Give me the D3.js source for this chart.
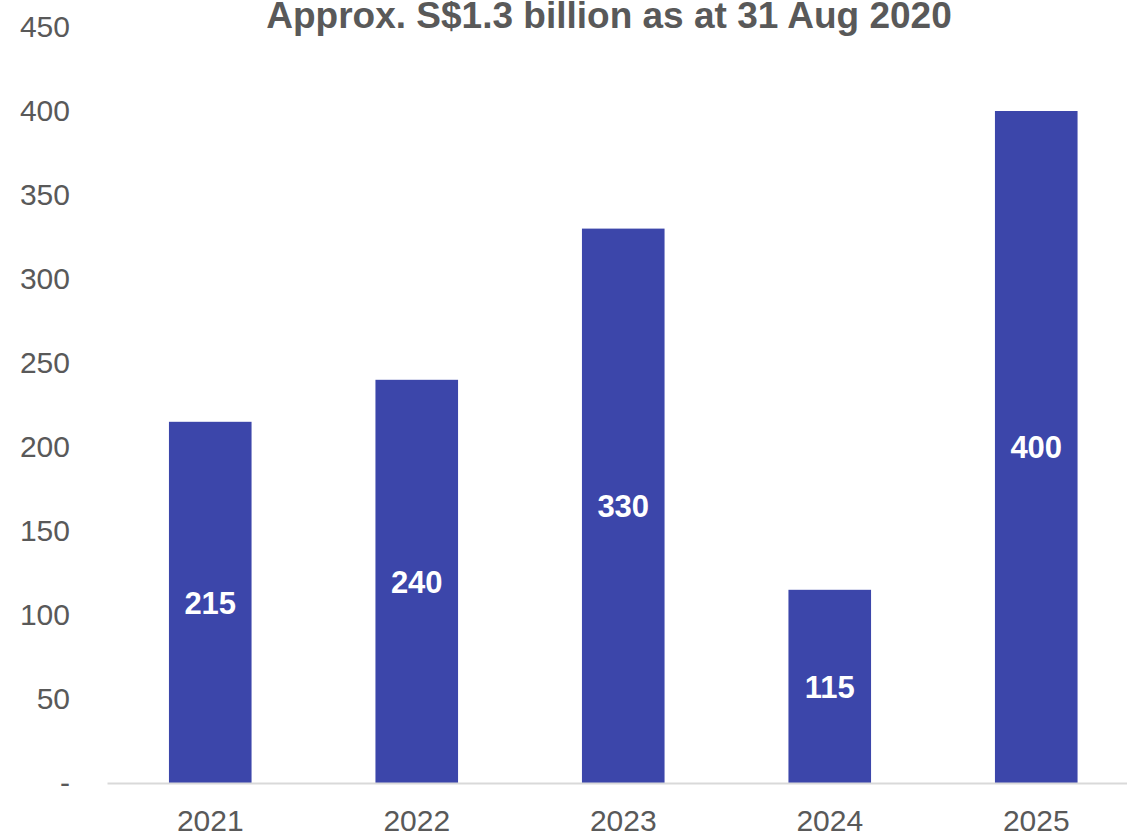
<!DOCTYPE html>
<html>
<head>
<meta charset="utf-8">
<script src="https://cdn.jsdelivr.net/npm/d3@7"></script>
<style>
  html, body { margin: 0; padding: 0; background: #fff; }
  svg { display: block; font-family: "Liberation Sans", Arial, sans-serif; }
</style>
</head>
<body>
<div id="chart"></div>
<script>
// chart data
const years = ["2021", "2022", "2023", "2024", "2025"];
const amounts = [215, 240, 330, 115, 400];
const yTicks = [0, 50, 100, 150, 200, 250, 300, 350, 400, 450];
const title = "Approx. S$1.3 billion as at 31 Aug 2020";

const width = 1127, height = 834;
const textGrey = "#595959";
const barColor = "#3C46AA";

const svg = d3.select("#chart").append("svg")
    .attr("width", width)
    .attr("height", height);

// scales
const x = d3.scaleBand()
    .domain(years)
    .range([107, 1139.5])
    .paddingInner(0.6)
    .paddingOuter(0.3);

const y = d3.scaleLinear()
    .domain([0, 450])
    .range([783, 27]);

// y axis (labels only)
const yAxis = svg.append("g")
    .attr("class", "axis axis-y")
    .attr("transform", "translate(70,0)")
    .call(d3.axisLeft(y)
        .tickValues(yTicks)
        .tickSize(0)
        .tickPadding(0)
        .tickFormat(d => d === 0 ? "-" : d));
yAxis.select(".domain").remove();
yAxis.selectAll("text")
    .attr("fill", textGrey)
    .style("font-size", "30px");

// bars
svg.selectAll(".bar")
    .data(amounts)
    .enter()
    .append("rect")
    .attr("class", "bar")
    .attr("x", (d, i) => x(years[i]))
    .attr("y", d => y(d))
    .attr("width", x.bandwidth())
    .attr("height", d => y(0) - y(d))
    .attr("fill", barColor);

// x axis
const xAxis = svg.append("g")
    .attr("class", "axis axis-x")
    .attr("transform", "translate(0," + y(0) + ")")
    .call(d3.axisBottom(x).tickSize(0).tickPadding(0));
xAxis.select(".domain")
    .attr("stroke", "#D9D9D9")
    .attr("stroke-width", 2);
xAxis.selectAll("text")
    .attr("fill", textGrey)
    .attr("y", 48)
    .attr("dy", 0)
    .style("font-size", "30px");

// value labels in the middle of each bar
svg.selectAll(".value-label")
    .data(amounts)
    .enter()
    .append("text")
    .attr("class", "value-label")
    .attr("x", (d, i) => x(years[i]) + x.bandwidth() / 2)
    .attr("y", d => (y(d) + y(0)) / 2)
    .attr("dy", "0.36em")
    .attr("text-anchor", "middle")
    .attr("fill", "#fff")
    .style("font-size", "31px")
    .style("font-weight", "bold")
    .text(d => d);

// title
svg.append("text")
    .attr("class", "title")
    .attr("x", 609)
    .attr("y", 28)
    .attr("text-anchor", "middle")
    .attr("fill", textGrey)
    .style("font-size", "37px")
    .style("font-weight", "bold")
    .text(title);
</script>
</body>
</html>
